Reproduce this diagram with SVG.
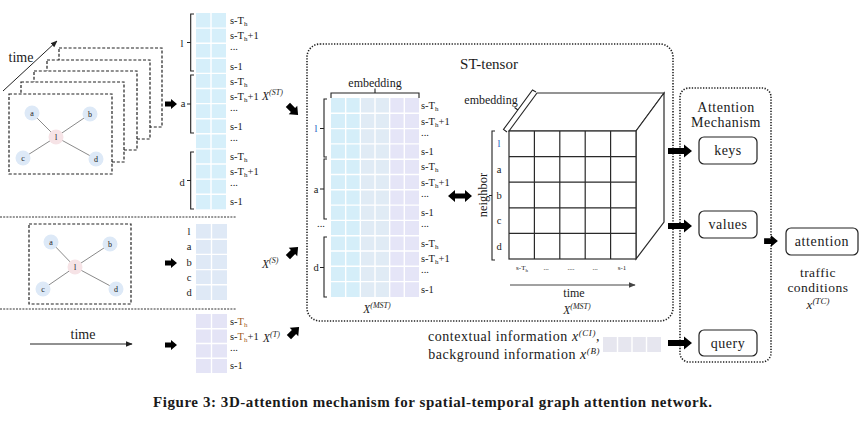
<svg xmlns="http://www.w3.org/2000/svg" width="866" height="428" viewBox="0 0 866 428" font-family="Liberation Serif, serif">
<style>
text{font-family:'Liberation Serif',serif;fill:#1a1a1a}
.lab{font-size:10.5px}
.nl{font-size:8px;text-anchor:middle}
.sm{font-size:7px;text-anchor:middle}
.mid{text-anchor:middle}
.it{font-style:italic}
.frame{fill:#fff;stroke:#222;stroke-width:1.2;stroke-dasharray:3 1.8}
.dot{fill:none;stroke:#222;stroke-width:1.6;stroke-dasharray:1.3 1.5}
.edge{stroke:#8a8a8a;stroke-width:1}
.nd{fill:#dde9f7}
.nc{fill:#f6e3e6}
.wl{fill:none;stroke:#fff;stroke-width:1.4}
.br{fill:none;stroke:#222;stroke-width:1.1}
.box{fill:#fff;stroke:#222;stroke-width:1.2}
.cube{fill:#fff;stroke:#2a2a2a;stroke-width:1.2}
.blue{fill:#1f5fbf}
</style>
<defs>
<path id="sa" d="M-6,-2.5 H0 V-5 L6,0 L0,5 V2.5 H-6 Z"/>
<path id="la" d="M-12,-3 H4 V-6.5 L12,0 L4,6.5 V3 H-12 Z"/>
<path id="da" d="M-12,0 L-5,-6 V-2.6 H5 V-6 L12,0 L5,6 V2.6 H-5 V6 Z"/>
<marker id="ah" viewBox="0 0 10 10" refX="9" refY="5" markerWidth="7" markerHeight="7" orient="auto"><path d="M0,1 L10,5 L0,9 Z" fill="#222"/></marker>
<marker id="ahg" viewBox="0 0 10 10" refX="9" refY="5" markerWidth="7" markerHeight="7" orient="auto"><path d="M0,1 L10,5 L0,9 Z" fill="#444"/></marker>
</defs>

<g id="separators">
<line x1="0" y1="217" x2="236" y2="217" stroke="#333" stroke-width="1" stroke-dasharray="2 1.2"/>
<line x1="0" y1="309" x2="236" y2="309" stroke="#333" stroke-width="1" stroke-dasharray="2 1.2"/>
</g>

<g id="graph-stack">
<line x1="3" y1="91" x2="57" y2="41" stroke="#222" stroke-width="1" marker-end="url(#ah)"/>
<text x="21" y="62" class="mid" font-size="14">time</text>
<rect class="frame" x="59" y="48" width="103" height="79"/>
<rect class="frame" x="47" y="60" width="103" height="79"/>
<rect class="frame" x="34" y="71" width="103" height="79"/>
<rect class="frame" x="21" y="82" width="103" height="80"/>
<rect class="frame" x="9" y="94" width="103" height="80"/>
<line class="edge" x1="56" y1="137" x2="32" y2="113"/>
<line class="edge" x1="56" y1="137" x2="90" y2="114"/>
<line class="edge" x1="56" y1="137" x2="23" y2="158"/>
<line class="edge" x1="56" y1="137" x2="96" y2="159"/>
<circle class="nd" cx="32" cy="113" r="7.5"/><text class="nl" x="32" y="116">a</text>
<circle class="nd" cx="90" cy="114" r="7.5"/><text class="nl" x="90" y="117">b</text>
<circle class="nc" cx="56" cy="137" r="7.5"/><text class="nl" x="56" y="140">l</text>
<circle class="nd" cx="23" cy="158" r="7.5"/><text class="nl" x="23" y="161">c</text>
<circle class="nd" cx="96" cy="159" r="7.5"/><text class="nl" x="96" y="162">d</text>
</g>

<g id="col-st">
<rect x="196" y="13" width="30" height="196.3" fill="#d6effa"/>
<path class="wl" d="M211,13 V209.3 M196,28.1 H226 M196,43.2 H226 M196,58.3 H226 M196,73.4 H226 M196,88.5 H226 M196,103.6 H226 M196,118.7 H226 M196,133.8 H226 M196,148.9 H226 M196,164 H226 M196,179.1 H226 M196,194.2 H226"/>
<path class="br" d="M194,14 H190.7 V71 H194 M190.7,42.5 H187 M194,75 H190.7 V133 H194 M190.7,104 H187 M194,152 H190.7 V209 H194 M190.7,180.5 H187"/>
<text class="lab mid" x="182" y="47">l</text>
<text class="lab mid" x="183" y="107">a</text>
<text class="lab mid" x="182" y="186">d</text>
<text class="lab" x="230" y="24">s-T<tspan font-size="7" dy="2">h</tspan></text>
<text class="lab" x="230" y="39">s-T<tspan font-size="7" dy="2">h</tspan><tspan dy="-2">+1</tspan></text>
<text class="lab" x="230" y="50">...</text>
<text class="lab" x="230" y="69.5">s-1</text>
<text class="lab" x="230" y="84.5">s-T<tspan font-size="7" dy="2">h</tspan></text>
<text class="lab" x="230" y="99.5">s-T<tspan font-size="7" dy="2">h</tspan><tspan dy="-2">+1</tspan></text>
<text class="lab" x="230" y="110.5">...</text>
<text class="lab" x="230" y="130">s-1</text>
<text class="lab" x="230" y="141">...</text>
<text class="lab" x="230" y="160">s-T<tspan font-size="7" dy="2">h</tspan></text>
<text class="lab" x="230" y="175">s-T<tspan font-size="7" dy="2">h</tspan><tspan dy="-2">+1</tspan></text>
<text class="lab" x="230" y="186">...</text>
<text class="lab" x="230" y="205">s-1</text>
<text x="262" y="100" font-size="11.5" class="it">X<tspan font-size="8" dy="-5">(ST)</tspan></text>
</g>

<g id="graph-spatial">
<rect class="frame" x="29" y="224" width="102" height="80"/>
<line class="edge" x1="75" y1="267" x2="51" y2="242"/>
<line class="edge" x1="75" y1="267" x2="110" y2="244"/>
<line class="edge" x1="75" y1="267" x2="43" y2="289"/>
<line class="edge" x1="75" y1="267" x2="116" y2="289"/>
<circle class="nd" cx="51" cy="242" r="7.5"/><text class="nl" x="51" y="245">a</text>
<circle class="nd" cx="110" cy="244" r="7.5"/><text class="nl" x="110" y="247">b</text>
<circle class="nc" cx="75" cy="267" r="7.5"/><text class="nl" x="75" y="270">l</text>
<circle class="nd" cx="43" cy="289" r="7.5"/><text class="nl" x="43" y="292">c</text>
<circle class="nd" cx="116" cy="289" r="7.5"/><text class="nl" x="116" y="292">d</text>
</g>

<g id="col-s">
<rect x="196" y="224" width="31" height="76" fill="#dfe9f6"/>
<path class="wl" d="M211.5,224 V300 M196,239.2 H227 M196,254.4 H227 M196,269.6 H227 M196,284.8 H227"/>
<text class="lab mid" x="189" y="235">l</text>
<text class="lab mid" x="189" y="250.3">a</text>
<text class="lab mid" x="189" y="265.5">b</text>
<text class="lab mid" x="189" y="280.7">c</text>
<text class="lab mid" x="189" y="295.9">d</text>
<text x="262" y="268" font-size="11.5" class="it">X<tspan font-size="8" dy="-5">(S)</tspan></text>
</g>

<g id="time-line">
<line x1="30" y1="344" x2="132" y2="344" stroke="#222" stroke-width="1" marker-end="url(#ah)"/>
<text x="83" y="339" class="mid" font-size="14">time</text>
</g>

<g id="col-t">
<rect x="196" y="314" width="31" height="59" fill="#e4e4f6"/>
<path class="wl" d="M211.5,314 V373 M196,328.75 H227 M196,343.5 H227 M196,358.25 H227"/>
<text class="lab" x="230" y="325">s-<tspan fill="#a5601e">T</tspan><tspan font-size="7" dy="2" fill="#a5601e">h</tspan></text>
<text class="lab" x="230" y="339.6">s-<tspan fill="#a5601e">T</tspan><tspan font-size="7" dy="2" fill="#a5601e">h</tspan><tspan dy="-2">+1</tspan></text>
<text class="lab" x="230" y="351">...</text>
<text class="lab" x="230" y="369">s-1</text>
<text x="263" y="342" font-size="11.5" class="it">X<tspan font-size="8" dy="-5">(T)</tspan></text>
</g>

<g id="st-tensor">
<rect class="dot" x="307" y="44" width="366" height="277" rx="13"/>
<text x="489" y="69" class="mid" font-size="15">ST-tensor</text>
</g>

<g id="mst-matrix">
<text x="375" y="87" class="mid" font-size="12">embedding</text>
<path class="br" d="M331,98 V93 H419 V98 M375,93 V88.5"/>
<rect x="331" y="98" width="29.33" height="199" fill="#d5eef9"/>
<rect x="360.33" y="98" width="29.34" height="199" fill="#e0ebf5"/>
<rect x="389.67" y="98" width="29.33" height="199" fill="#e5e5f7"/>
<path class="wl" d="M345.67,98 V297 M360.33,98 V297 M375,98 V297 M389.67,98 V297 M404.33,98 V297 M331,113.3 H419 M331,128.6 H419 M331,143.9 H419 M331,159.2 H419 M331,174.5 H419 M331,189.8 H419 M331,205.1 H419 M331,220.4 H419 M331,235.7 H419 M331,251 H419 M331,266.3 H419 M331,281.6 H419"/>
<path class="br" d="M327,99 H324 V157 H327 M324,128.5 H320 M327,159 H324 V219 H327 M324,189 H320 M327,237 H324 V297 H327 M324,267.5 H320"/>
<text class="lab mid blue" x="316" y="132">l</text>
<text class="lab mid" x="316" y="192.5">a</text>
<text class="lab mid" x="321" y="227">...</text>
<text class="lab mid" x="316" y="271">d</text>
<text class="lab" x="421" y="109">s-T<tspan font-size="7" dy="2">h</tspan></text>
<text class="lab" x="421" y="124.5">s-T<tspan font-size="7" dy="2">h</tspan><tspan dy="-2">+1</tspan></text>
<text class="lab" x="421" y="135.5">...</text>
<text class="lab" x="421" y="155">s-1</text>
<text class="lab" x="421" y="170.3">s-T<tspan font-size="7" dy="2">h</tspan></text>
<text class="lab" x="421" y="185.6">s-T<tspan font-size="7" dy="2">h</tspan><tspan dy="-2">+1</tspan></text>
<text class="lab" x="421" y="196.5">...</text>
<text class="lab" x="421" y="216.2">s-1</text>
<text class="lab" x="421" y="227">...</text>
<text class="lab" x="421" y="246.8">s-T<tspan font-size="7" dy="2">h</tspan></text>
<text class="lab" x="421" y="262.1">s-T<tspan font-size="7" dy="2">h</tspan><tspan dy="-2">+1</tspan></text>
<text class="lab" x="421" y="273">...</text>
<text class="lab" x="421" y="292.7">s-1</text>
<text x="377" y="313" font-size="11.5" class="it mid">X<tspan font-size="8" dy="-5">(MST)</tspan></text>
</g>

<g id="cube">
<polygon class="cube" points="509,131 537,93 664,93 636,131"/>
<polygon class="cube" points="636,131 664,93 664,222 636,259"/>
<rect class="cube" x="509" y="131" width="127" height="128"/>
<path fill="none" stroke="#2a2a2a" stroke-width="1.2" d="M534.4,131 V259 M559.8,131 V259 M585.2,131 V259 M610.6,131 V259 M509,156.6 H636 M509,182.2 H636 M509,207.8 H636 M509,233.4 H636"/>
<path class="br" d="M507,132 L503.5,129.5 L532.5,90 L536,92 M518,110 L514.5,107.5"/>
<text x="491" y="104" class="mid" font-size="12">embedding</text>
<path class="br" d="M495,131 H492 V260 H495 M492,195.5 H489"/>
<text x="483" y="195" class="mid" font-size="12.5" transform="rotate(-90 483 195)" dy="4">neighbor</text>
<text class="lab mid blue" x="499" y="147.3">l</text>
<text class="lab mid" x="499" y="172.9">a</text>
<text class="lab mid" x="499" y="198.5">b</text>
<text class="lab mid" x="499" y="224.1">c</text>
<text class="lab mid" x="499" y="249.7">d</text>
<text class="sm" x="522" y="270">s-T<tspan font-size="5" dy="1.5">h</tspan></text>
<text class="sm" x="546" y="270">...</text>
<text class="sm" x="571" y="270">....</text>
<text class="sm" x="595" y="270">...</text>
<text class="sm" x="622" y="270">s-1</text>
<line x1="510" y1="285" x2="635" y2="285" stroke="#444" stroke-width="1" marker-end="url(#ahg)"/>
<text x="574" y="297" class="mid" font-size="12">time</text>
<text x="577" y="314" font-size="11.5" class="it mid">X<tspan font-size="8" dy="-5">(MST)</tspan></text>
</g>

<g id="attention-mechanism">
<rect class="dot" x="680" y="88" width="91" height="274" rx="9"/>
<text x="726" y="112" class="mid" font-size="14" letter-spacing="0.5">Attention</text>
<text x="726" y="127" class="mid" font-size="14" letter-spacing="0.5">Mechanism</text>
</g>
<g id="keys"><rect class="box" x="699" y="137" width="58" height="27" rx="5"/><text x="728" y="155" class="mid" font-size="14" letter-spacing="0.5">keys</text></g>
<g id="values"><rect class="box" x="699" y="211" width="58" height="27" rx="5"/><text x="728" y="229" class="mid" font-size="14" letter-spacing="0.5">values</text></g>
<g id="query"><rect class="box" x="699" y="330" width="58" height="26" rx="5"/><text x="728" y="347.5" class="mid" font-size="14" letter-spacing="0.5">query</text></g>
<g id="attention"><rect class="box" x="786" y="228" width="72" height="27" rx="5"/><text x="822" y="246" class="mid" font-size="14" letter-spacing="0.6">attention</text></g>
<g id="traffic-conditions">
<text x="818" y="277" class="mid" font-size="13.5" letter-spacing="0.5">traffic</text>
<text x="818" y="292" class="mid" font-size="13.5" letter-spacing="0.5">conditions</text>
<text x="818" y="309" class="mid it" font-size="13">x<tspan font-size="9" dy="-5">(TC)</tspan></text>
</g>

<g id="context">
<text x="600" y="341" font-size="14" letter-spacing="0.55" text-anchor="end">contextual information <tspan class="it">x</tspan><tspan class="it" font-size="9" dy="-5">(CI)</tspan><tspan dy="5">,</tspan></text>
<text x="600" y="359" font-size="14" letter-spacing="0.55" text-anchor="end">background information <tspan class="it">x</tspan><tspan class="it" font-size="9" dy="-5">(B)</tspan></text>
<rect x="603" y="337" width="58" height="15" fill="#e6e6ef"/>
<path class="wl" d="M617.5,337 V352 M632,337 V352 M646.5,337 V352"/>
</g>

<g id="connectors">
<use href="#sa" transform="translate(171,104)"/>
<use href="#sa" transform="translate(171,263)"/>
<use href="#sa" transform="translate(171,345)"/>
<use href="#sa" transform="translate(293,110) rotate(45) scale(1.2)"/>
<use href="#sa" transform="translate(293,252) rotate(-45) scale(1.2)"/>
<use href="#sa" transform="translate(294,332) rotate(-45) scale(1.2)"/>
<use href="#da" transform="translate(460,196)"/>
<use href="#la" transform="translate(680,151)"/>
<use href="#la" transform="translate(680,226)"/>
<use href="#la" transform="translate(680,343)"/>
<use href="#sa" transform="translate(771,241) scale(1.15)"/>
</g>

<text x="153" y="407" font-size="15" font-weight="bold" textLength="559" lengthAdjust="spacing">Figure 3: 3D-attention mechanism for spatial-temporal graph attention network.</text>
</svg>
